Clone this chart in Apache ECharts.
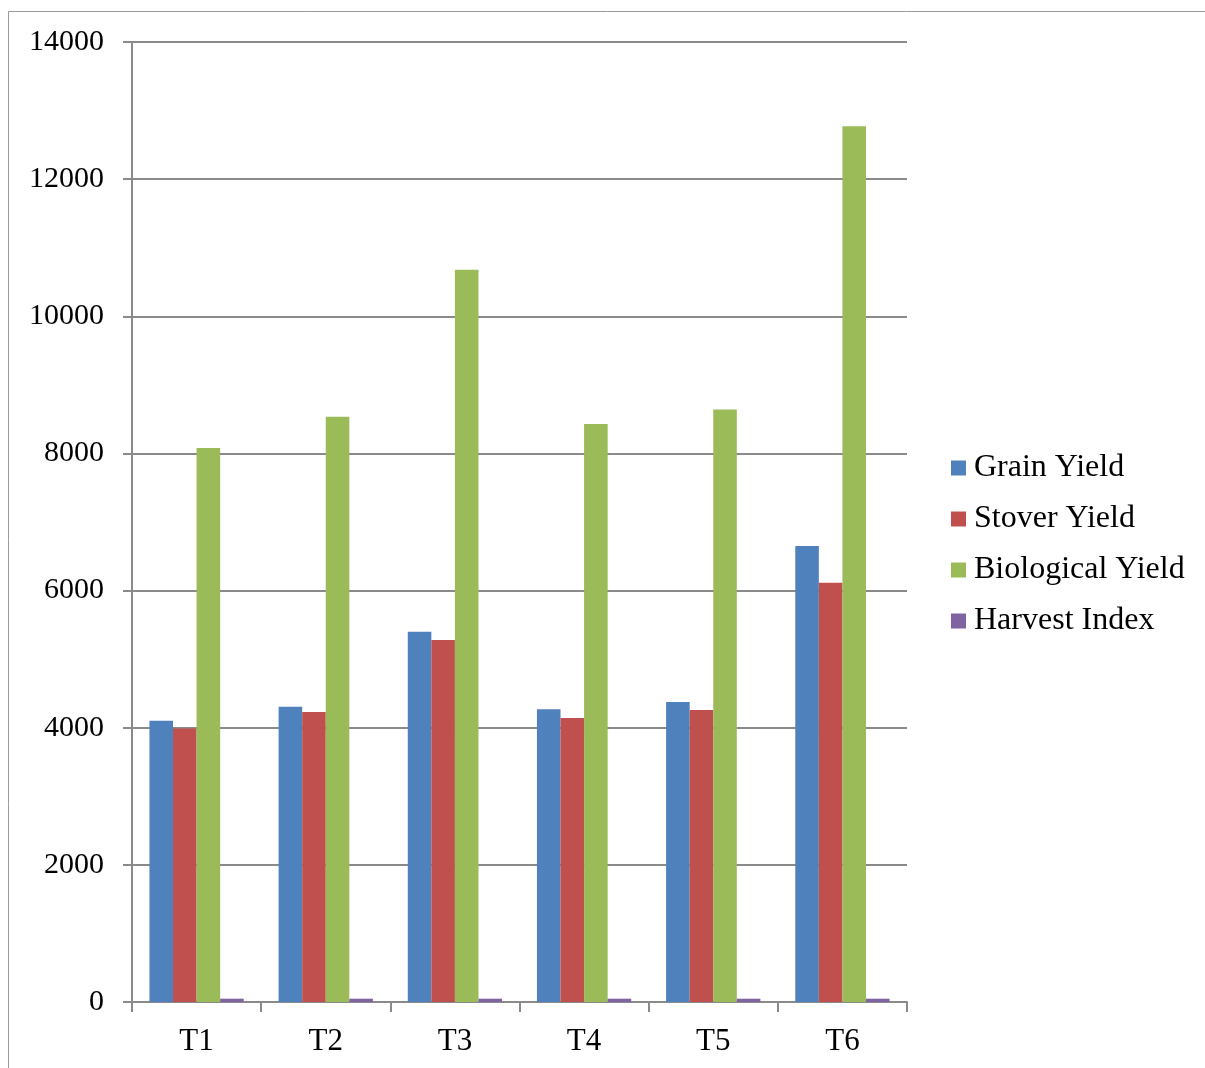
<!DOCTYPE html>
<html>
<head>
<meta charset="utf-8">
<script src="https://cdn.jsdelivr.net/npm/echarts@6/dist/echarts.min.js"></script>
<style>
  html, body { margin: 0; padding: 0; background: #ffffff; }
  #chart { width: 1205px; height: 1068px; }
</style>
</head>
<body>
<div id="chart"></div>
<script>
// Treatment categories and measured yields (kg/ha) plus harvest index (%)
const categories = ['T1', 'T2', 'T3', 'T4', 'T5', 'T6'];
const grainYield = [4100, 4305, 5400, 4270, 4375, 6650];
const stoverYield = [3990, 4230, 5280, 4140, 4260, 6115];
const biologicalYield = [8080, 8535, 10680, 8430, 8640, 12770];
const harvestIndex = [48, 48, 48, 48, 48, 48];
const yTicks = { min: 0, max: 14000, step: 2000 };

const seriesNames = ['Grain Yield', 'Stover Yield', 'Biological Yield', 'Harvest Index'];
const seriesData = [grainYield, stoverYield, biologicalYield, harvestIndex];
const colors = ['#4F81BD', '#C0504D', '#9BBB59', '#8064A2'];

const font = 'Liberation Serif, Times New Roman, serif';
const gridColor = '#8a8a8a';

const chart = echarts.init(document.getElementById('chart'), null, { renderer: 'canvas' });

chart.setOption({
  animation: false,
  backgroundColor: '#ffffff',
  color: colors,
  graphic: [{
    type: 'rect',
    shape: { x: 8.5, y: 11.5, width: 1300, height: 1200 },
    style: { fill: 'none', stroke: '#9a9a9a', lineWidth: 1 },
    silent: true,
    z: -10
  }],
  grid: { left: 132, right: 298, top: 42, bottom: 66, containLabel: false },
  legend: {
    orient: 'vertical',
    left: 946,
    top: 447,
    itemWidth: 15,
    itemHeight: 15,
    itemGap: 19,
    icon: 'rect',
    textStyle: { fontFamily: font, fontSize: 32, color: '#000', padding: [0, 0, 0, 3] },
    data: seriesNames
  },
  xAxis: {
    type: 'category',
    data: categories,
    boundaryGap: true,
    axisLine: { lineStyle: { color: gridColor, width: 2 } },
    axisTick: { show: true, length: 10, inside: false, lineStyle: { color: gridColor, width: 2 } },
    axisLabel: { fontFamily: font, fontSize: 31, color: '#000', margin: 24 },
    splitLine: { show: false }
  },
  yAxis: {
    type: 'value',
    min: yTicks.min,
    max: yTicks.max,
    interval: yTicks.step,
    axisLine: { show: true, lineStyle: { color: gridColor, width: 2 } },
    axisTick: { show: true, length: 9, lineStyle: { color: gridColor, width: 2 } },
    axisLabel: { fontFamily: font, fontSize: 30, color: '#000', margin: 28, formatter: (v) => String(v) },
    splitLine: { show: true, lineStyle: { color: gridColor, width: 2 } }
  },
  series: seriesNames.map((name, i) => ({
    name: name,
    type: 'bar',
    data: seriesData[i],
    barGap: '0%',
    barCategoryGap: '27%',
    itemStyle: { color: colors[i] }
  }))
});
</script>
</body>
</html>
